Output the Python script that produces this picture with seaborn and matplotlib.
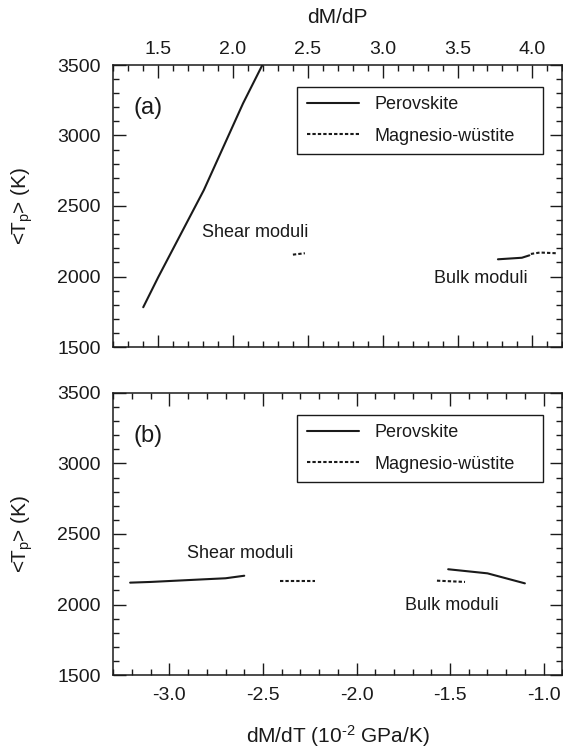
import matplotlib
matplotlib.use("Agg")
import matplotlib.pyplot as plt
import seaborn as sns
import pandas as pd
from matplotlib.lines import Line2D
from matplotlib.ticker import MultipleLocator

sns.set_theme(style="ticks")
plt.rcParams['font.family'] = ['Liberation Sans', 'DejaVu Sans']
plt.rcParams['mathtext.fontset'] = 'custom'
plt.rcParams['mathtext.rm'] = 'Liberation Sans'
plt.rcParams['mathtext.it'] = 'Liberation Sans:italic'
plt.rcParams['axes.unicode_minus'] = False

# ---- data: panel (a) vs dM/dP ----
a_pv_shear_x = [1.40, 1.50, 1.805, 2.067, 2.196]
a_pv_shear_t = [1782, 1995, 2613, 3228, 3500]
a_mw_shear_x = [2.40, 2.48]
a_mw_shear_t = [2155, 2165]
a_pv_bulk_x = [3.77, 3.93, 3.98]
a_pv_bulk_t = [2122, 2133, 2150]
a_mw_bulk_x = [3.99, 4.05, 4.16]
a_mw_bulk_t = [2160, 2170, 2165]

# ---- data: panel (b) vs dM/dT ----
b_pv_shear_x = [-3.21, -3.10, -2.81, -2.70, -2.60]
b_pv_shear_t = [2155, 2160, 2179, 2186, 2204]
b_mw_shear_x = [-2.41, -2.22]
b_mw_shear_t = [2167, 2167]
b_pv_bulk_x = [-1.51, -1.30, -1.10]
b_pv_bulk_t = [2250, 2221, 2150]
b_mw_bulk_x = [-1.57, -1.42]
b_mw_bulk_t = [2169, 2160]

minerals = ["Perovskite", "Magnesio-wüstite"]
top_ticks = [1.5, 2.0, 2.5, 3.0, 3.5, 4.0]
bottom_ticks = [-3.0, -2.5, -2.0, -1.5, -1.0]
y_ticks = [1500, 2000, 2500, 3000, 3500]

INK = '#1a1a1a'
LW = 1.5
DASH = (0, (1.6, 1.0))

fig = plt.figure(figsize=(5.63, 7.51), dpi=100)
W = 449 / 563
H = 282 / 751
axA = fig.add_axes([113.3 / 563, 1 - 347 / 751, W, H])
axB = fig.add_axes([113.3 / 563, 1 - 675 / 751, W, H])


def seg(ax, xs, ts, style):
    df = pd.DataFrame({"x": xs, "t": ts})
    sns.lineplot(data=df, x="x", y="t", ax=ax, color=INK, lw=LW, sort=False,
                 estimator=None, linestyle=style)


seg(axA, a_pv_shear_x, a_pv_shear_t, '-')
seg(axA, a_mw_shear_x, a_mw_shear_t, DASH)
seg(axA, a_pv_bulk_x, a_pv_bulk_t, '-')
seg(axA, a_mw_bulk_x, a_mw_bulk_t, DASH)

seg(axB, b_pv_shear_x, b_pv_shear_t, '-')
seg(axB, b_mw_shear_x, b_mw_shear_t, DASH)
seg(axB, b_pv_bulk_x, b_pv_bulk_t, '-')
seg(axB, b_mw_bulk_x, b_mw_bulk_t, DASH)

axA.set_xlim(1.2, 4.2)
axB.set_xlim(-3.3, -0.9)

for ax in (axA, axB):
    ax.set_ylim(1500, 3500)
    ax.set_yticks(y_ticks)
    ax.yaxis.set_minor_locator(MultipleLocator(100))
    ax.xaxis.set_minor_locator(MultipleLocator(0.1))
    ax.tick_params(which='both', direction='in', top=True, bottom=True,
                   left=True, right=True, color=INK, width=1.0)
    ax.tick_params(which='major', length=9)
    ax.tick_params(which='minor', length=4.5)
    ax.tick_params(axis='y', labelsize=14, pad=9, labelcolor=INK)
    ax.tick_params(axis='x', labelsize=14, labelcolor=INK)
    for s in ax.spines.values():
        s.set_color(INK)
        s.set_linewidth(1.1)
    ax.set_ylabel('<T$_\\mathrm{p}$> (K)', fontsize=15, color=INK)
    ax.yaxis.set_label_coords(-0.175, 0.5)

axA.set_xticks(top_ticks)
axA.set_xticklabels([f"{v:.1f}" for v in top_ticks])
axA.tick_params(axis='x', labeltop=True, labelbottom=False, pad=5)
axA.xaxis.set_label_position('top')
axA.set_xlabel('dM/dP', fontsize=15, color=INK)
axA.xaxis.set_label_coords(0.5, 1.149)

axB.set_xticks(bottom_ticks)
axB.set_xticklabels([f"{v:.1f}" for v in bottom_ticks])
axB.tick_params(axis='x', labeltop=False, labelbottom=True, pad=9)
axB.set_xlabel('dM/dT (10$^{\\text{-2}}$ GPa/K)', fontsize=15, color=INK)
axB.xaxis.set_label_coords(0.5, -0.170)

# panel letters
axA.text(0.0445, 0.849, '(a)', transform=axA.transAxes, fontsize=17,
         ha='left', va='center', color=INK)
axB.text(0.0445, 0.849, '(b)', transform=axB.transAxes, fontsize=17,
         ha='left', va='center', color=INK)

# annotations
axA.text(1.79, 2309, 'Shear moduli', fontsize=13, ha='left', va='center', color=INK)
axA.text(3.34, 1989, 'Bulk moduli', fontsize=13, ha='left', va='center', color=INK)
axB.text(-2.904, 2365, 'Shear moduli', fontsize=13, ha='left', va='center', color=INK)
axB.text(-1.743, 1996, 'Bulk moduli', fontsize=13, ha='left', va='center', color=INK)

handles = [Line2D([], [], color=INK, lw=LW, linestyle='-'),
           Line2D([], [], color=INK, lw=LW, linestyle=DASH)]
for ax in (axA, axB):
    leg = ax.legend(handles, minerals, loc='upper left',
                    bbox_to_anchor=(0.41, 0.923, 0.548, 0.0), mode='expand',
                    fontsize=13, frameon=True, fancybox=False, handlelength=2.9,
                    handletextpad=0.83, labelspacing=0.8, borderpad=0.52,
                    borderaxespad=0.0, labelcolor=INK)
    fr = leg.get_frame()
    fr.set_edgecolor(INK)
    fr.set_linewidth(1.0)
    fr.set_alpha(1)

fig.savefig('out.png', dpi=100)
